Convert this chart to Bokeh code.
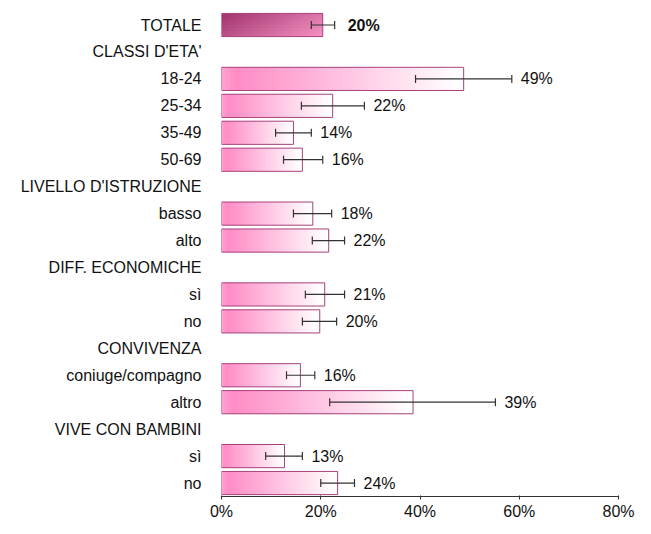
from bokeh.plotting import figure
from bokeh.models import Range1d, FixedTicker, ColumnDataSource, Whisker, TeeHead, LabelSet, PrintfTickFormatter
from bokeh.core.properties import value
from bokeh.embed import file_html
from bokeh.resources import INLINE

categories = ["TOTALE", "CLASSI D'ETA'", "18-24", "25-34", "35-49", "50-69",
              "LIVELLO D'ISTRUZIONE", "basso", "alto", "DIFF. ECONOMICHE", "sì", "no",
              "CONVIVENZA", "coniuge/compagno", "altro", "VIVE CON BAMBINI", "sì", "no"]
values = [20.4, None, 48.8, 22.4, 14.5, 16.3, None, 18.4, 21.6, None, 20.8, 19.8,
          None, 15.9, 38.6, None, 12.7, 23.4]
ci_low = [18.1, None, 39.1, 16.1, 10.9, 12.5, None, 14.5, 18.3, None, 16.9, 16.3,
          None, 13.1, 21.8, None, 8.9, 20.0]
ci_high = [22.8, None, 58.5, 28.8, 18.1, 20.4, None, 22.2, 24.8, None, 24.8, 23.2,
           None, 18.8, 55.2, None, 16.3, 26.8]
value_labels = ["20%", "", "49%", "22%", "14%", "16%", "", "18%", "22%", "", "21%", "20%",
                "", "16%", "39%", "", "13%", "24%"]
x_ticks = [0, 20, 40, 60, 80]

FONT = "Liberation Sans"
FS = "16px"
N = 60
BAR_H = 0.86

p = figure(frame_width=397, frame_height=489, output_backend="svg", toolbar_location=None,
           x_range=Range1d(0, 80), y_range=Range1d(17.5, -0.65),
           min_border_left=221, min_border_right=17, min_border_top=7, min_border_bottom=0)
p.outline_line_color = None
p.grid.visible = False

def mix(c1, c2, t):
    return "#%02x%02x%02x" % tuple(int(round(a + (b - a) * t)) for a, b in zip(c1, c2))

PINK = (255, 140, 198)
WHITE = (255, 255, 255)

sl, sr, st, sb, sc = [], [], [], [], []
for i, v in enumerate(values):
    if v is None:
        continue
    if i == 0:
        ny = 8
        for j in range(ny):
            for k in range(N):
                t = ((k + 0.5) / N) * 0.7 + (1 - (j + 0.5) / ny) * 0.3
                sl.append(v * k / N); sr.append(min(v, v * (k + 1.6) / N))
                sb.append(i + BAR_H / 2 - BAR_H * j / ny)
                st.append(max(i - BAR_H / 2, i + BAR_H / 2 - BAR_H * (j + 1.5) / ny))
                sc.append(mix((160, 52, 108), (246, 146, 196), t))
        continue
    for k in range(N):
        t = (k + 0.5) / N
        if t < 0.06:
            inten = 0.8 + 0.2 * t / 0.06
        else:
            inten = max(0.0, 1 - (t - 0.06) / 0.92)
        sl.append(v * k / N); sr.append(min(v, v * (k + 1.6) / N))
        st.append(i - BAR_H / 2); sb.append(i + BAR_H / 2)
        sc.append(mix(WHITE, PINK, inten))

p.quad(left=sl, right=sr, top=st, bottom=sb, fill_color=sc, line_color=None)

bi = [i for i, v in enumerate(values) if v is not None]
bars = ColumnDataSource(dict(y=bi, v=[values[i] for i in bi],
                             lo=[ci_low[i] for i in bi], hi=[ci_high[i] for i in bi],
                             lab=[value_labels[i] for i in bi]))
p.hbar(y="y", right="v", left=0, height=BAR_H, source=bars, fill_color=None,
       line_color="#a8417a", line_width=1)

w = Whisker(source=bars, base="y", lower="lo", upper="hi", dimension="width",
            line_color="#333333", line_width=1.2, level="overlay",
            lower_head=TeeHead(size=8, line_color="#333333", line_width=1.2),
            upper_head=TeeHead(size=8, line_color="#333333", line_width=1.2))
p.add_layout(w)

rest = ColumnDataSource(dict(y=bi[1:], hi=[ci_high[i] for i in bi[1:]],
                             lab=[value_labels[i] for i in bi[1:]]))
p.add_layout(LabelSet(x="hi", y="y", text="lab", source=rest, x_offset=9,
                      text_baseline="middle", text_font=value(FONT), text_font_size=FS,
                      text_color="#111111"))
tot = ColumnDataSource(dict(y=[0], hi=[ci_high[0]], lab=[value_labels[0]]))
p.add_layout(LabelSet(x="hi", y="y", text="lab", source=tot, x_offset=13,
                      text_baseline="middle", text_font=value(FONT), text_font_size=FS,
                      text_font_style="bold", text_color="#111111"))

p.yaxis.ticker = FixedTicker(ticks=list(range(len(categories))))
p.yaxis.major_label_overrides = {i: c for i, c in enumerate(categories)}
p.yaxis.axis_line_color = None
p.yaxis.major_tick_line_color = None
p.yaxis.minor_tick_line_color = None
p.yaxis.major_label_standoff = 14
p.yaxis.major_label_text_font = FONT
p.yaxis.major_label_text_font_size = FS
p.yaxis.major_label_text_color = "#111111"

p.xaxis.ticker = FixedTicker(ticks=x_ticks)
p.xaxis.formatter = PrintfTickFormatter(format="%d%%")
p.xaxis.minor_tick_line_color = None
p.xaxis.axis_line_color = "#333333"
p.xaxis.major_tick_line_color = "#333333"
p.xaxis.major_tick_in = 1
p.xaxis.major_tick_out = 3
p.xaxis.major_label_standoff = 3
p.xaxis.major_label_text_font = FONT
p.xaxis.major_label_text_font_size = FS
p.xaxis.major_label_text_color = "#111111"

open("out.html", "w").write(file_html(p, INLINE))
